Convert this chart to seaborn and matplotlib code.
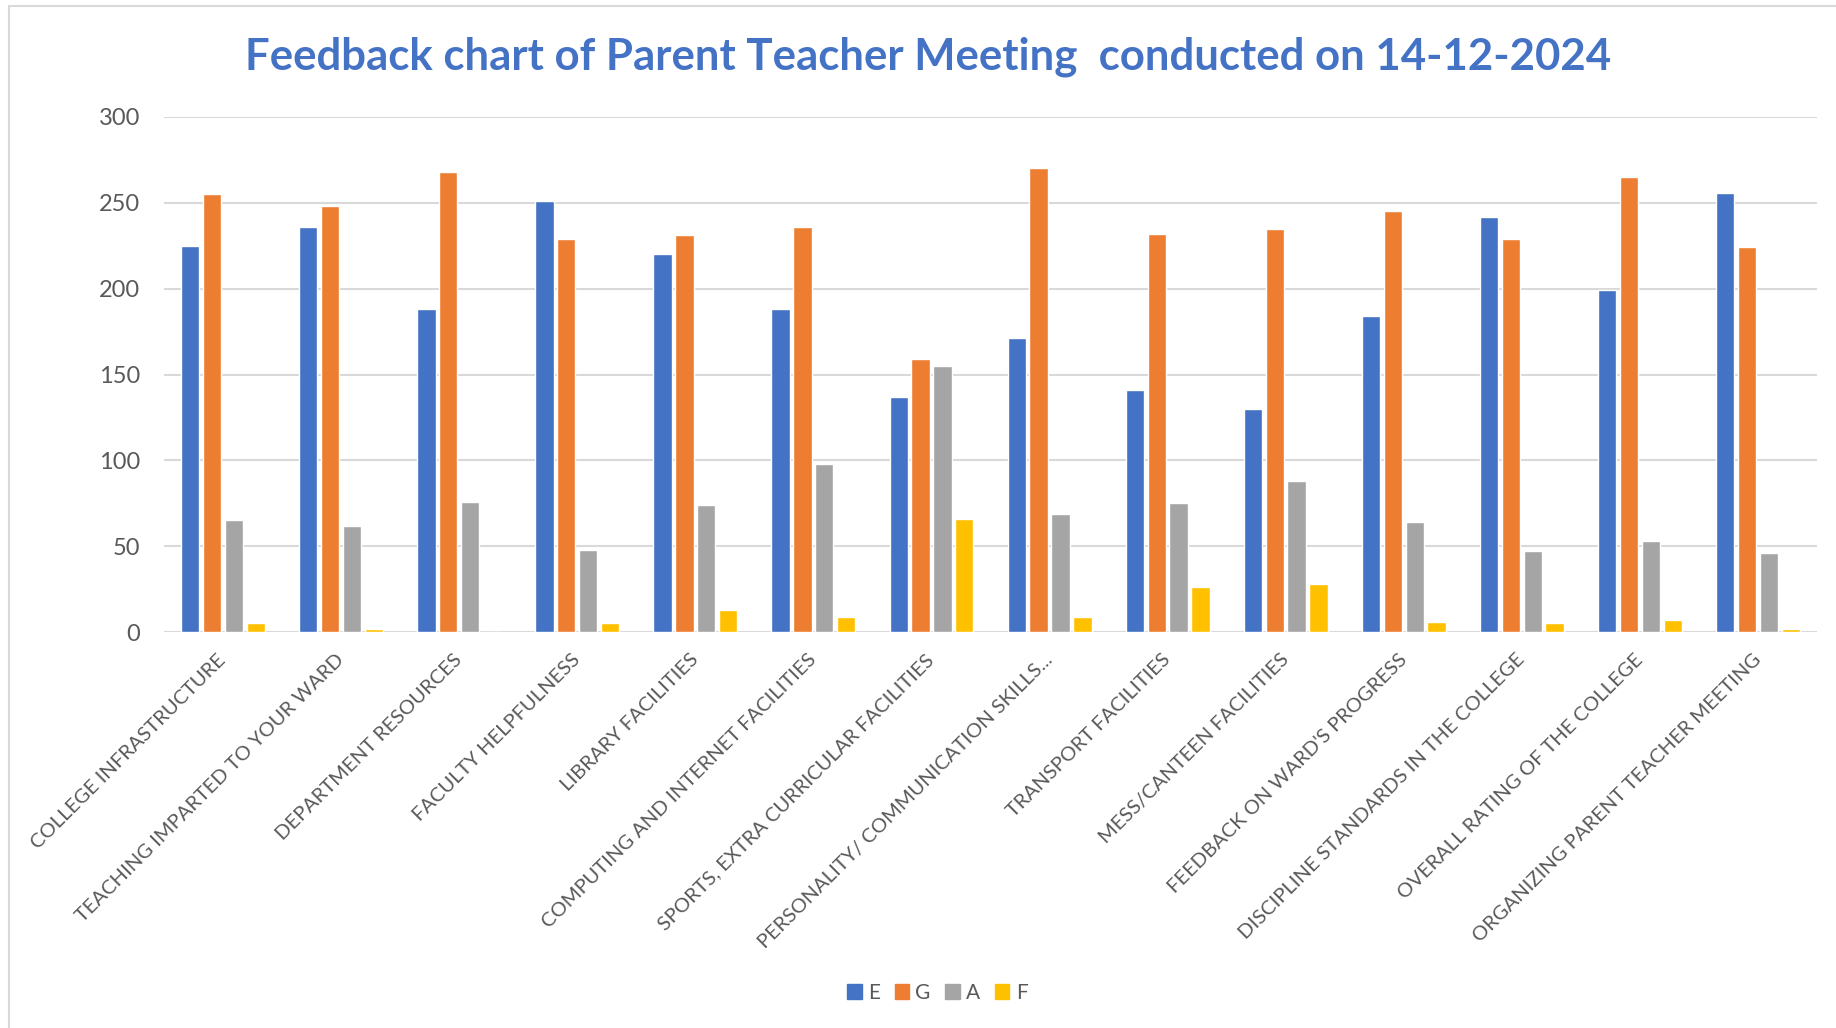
import pandas as pd
import matplotlib.pyplot as plt
import matplotlib.patches as mpatches
import seaborn as sns

# Dados
categories = [
    "COLLEGE INFRASTRUCTURE",
    "TEACHING IMPARTED TO YOUR WARD",
    "DEPARTMENT RESOURCES",
    "FACULTY HELPFULNESS",
    "LIBRARY FACILITIES",
    "COMPUTING AND INTERNET FACILITIES",
    "SPORTS, EXTRA CURRICULAR FACILITIES",
    "PERSONALITY/ COMMUNICATION SKILLS...",
    "TRANSPORT FACILITIES",
    "MESS/CANTEEN FACILITIES",
    "FEEDBACK ON WARD'S PROGRESS",
    "DISCIPLINE STANDARDS IN THE COLLEGE",
    "OVERALL RATING OF THE COLLEGE",
    "ORGANIZING PARENT TEACHER MEETING",
]
E = [225, 236, 188, 251, 220, 188, 137, 171, 141, 130, 184, 242, 199, 256]
G = [255, 248, 268, 229, 231, 236, 159, 270, 232, 235, 245, 229, 265, 224]
A = [65, 62, 76, 48, 74, 98, 155, 69, 75, 88, 64, 47, 53, 46]
F = [5, 2, 0, 5, 13, 9, 66, 9, 26, 28, 6, 5, 7, 2]
series = ["E", "G", "A", "F"]
colors = ["#4472C4", "#ED7D31", "#A5A5A5", "#FFC000"]

rows = []
for name, vals in zip(series, [E, G, A, F]):
    for cat, v in zip(categories, vals):
        rows.append({"Category": cat, "Rating": name, "Count": v})
data = pd.DataFrame(rows)

sns.set_style("white")
plt.rcParams["font.family"] = ["Lato", "DejaVu Sans"]

fig = plt.figure(figsize=(18.36, 10.28), dpi=100)
ax = fig.add_axes([0.0893, 0.3852, 0.9004, 0.501])

sns.barplot(data=data, x="Category", y="Count", hue="Rating", order=categories,
            hue_order=series, palette=colors, width=0.74, gap=0.16,
            saturation=1, legend=False, ax=ax)

ax.set_ylim(0, 300)
ax.set_xlim(-0.5, len(categories) - 0.5)
ax.set_yticks(range(0, 301, 50))
ax.yaxis.grid(True, color="#D9D9D9", linewidth=1.5)
ax.set_axisbelow(True)
for s in ax.spines.values():
    s.set_visible(False)
ax.tick_params(axis="both", length=0, labelcolor="#595959")
ax.tick_params(axis="y", pad=17, labelsize=17)
ax.set_xticks(range(len(categories)))
ax.set_xticklabels(categories, rotation=45, ha="right", va="center",
                   rotation_mode="anchor")
ax.tick_params(axis="x", pad=18, labelsize=14.5)
ax.set_xlabel("")
ax.set_ylabel("")

fig.text(0.5055, 1 - 57 / 1028,
         "Feedback chart of Parent Teacher Meeting  conducted on 14-12-2024",
         ha="center", va="center", fontsize=31.5, fontweight="bold", color="#4472C4")

handles = [mpatches.Patch(color=c, label=s) for s, c in zip(series, colors)]
fig.legend(handles=handles, loc="center", bbox_to_anchor=(0.5105, 1 - 993 / 1028), ncol=4,
           frameon=False, fontsize=15, handlelength=0.7, handleheight=0.7,
           handletextpad=0.3, columnspacing=0.7, labelcolor="#595959")

# moldura do gráfico
fig.patches.append(mpatches.Rectangle((9 / 1836, -0.01), 1.2, 1.0 - 6 / 1028 + 0.01,
                                      transform=fig.transFigure, fill=False,
                                      edgecolor="#D9D9D9", linewidth=1.5))

plt.savefig("out.png", dpi=100)
